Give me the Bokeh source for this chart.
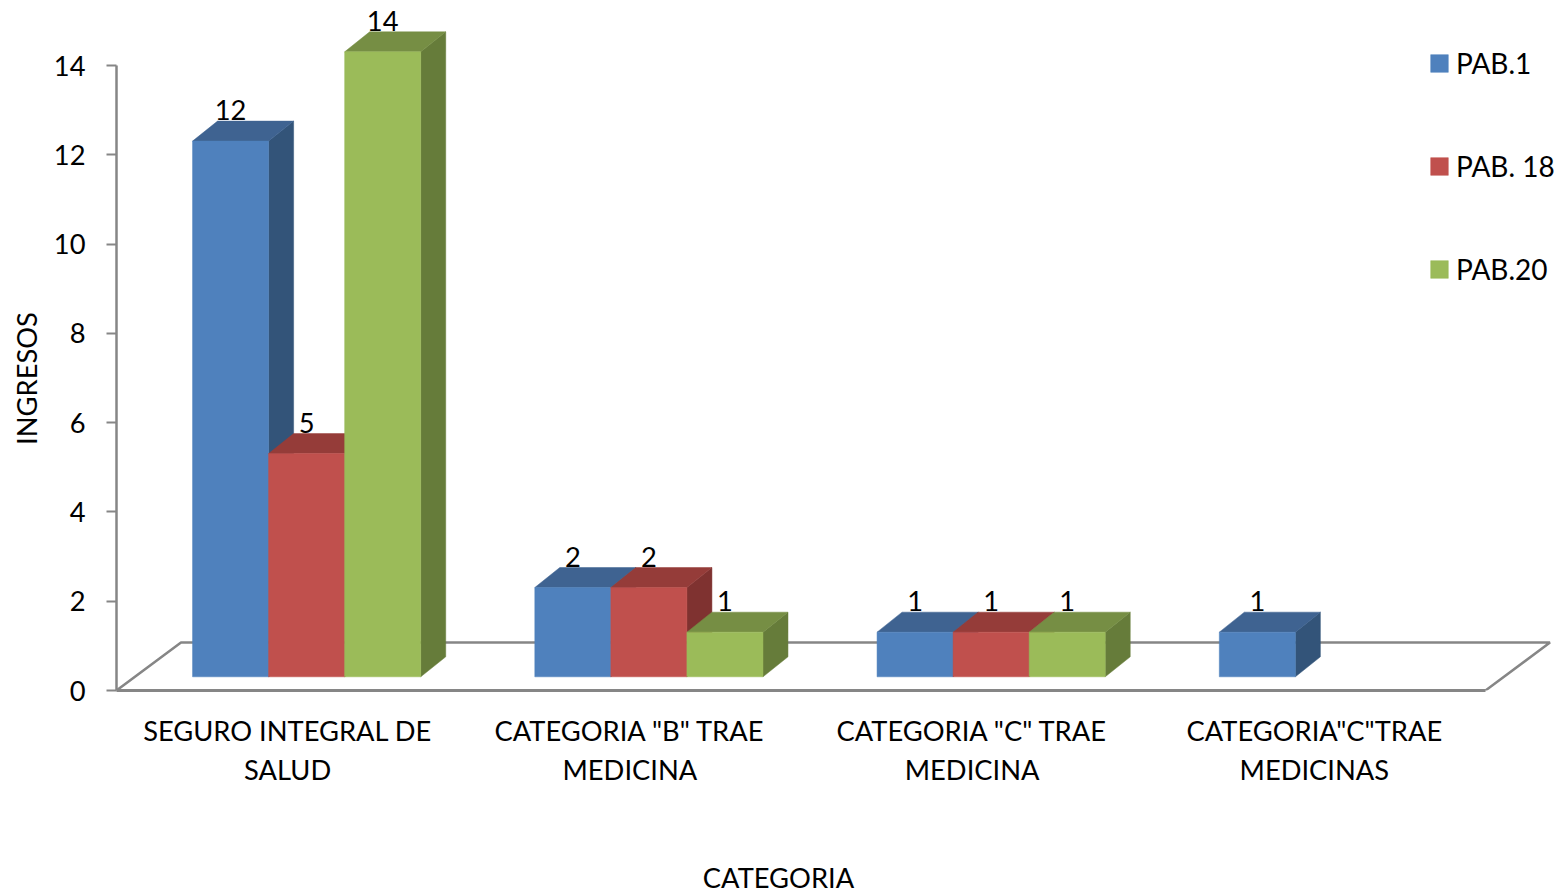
from bokeh.embed import file_html
from bokeh.resources import INLINE
from bokeh.plotting import figure
from bokeh.models import (Range1d, LinearAxis, FixedTicker, Legend, LegendItem)
from bokeh.core.properties import value

# ---- data ----
categories_line1 = ["SEGURO INTEGRAL DE", 'CATEGORIA "B" TRAE', 'CATEGORIA "C" TRAE', 'CATEGORIA"C"TRAE']
categories_line2 = ["SALUD", "MEDICINA", "MEDICINA", "MEDICINAS"]
series_names = ["PAB.1", "PAB. 18", "PAB.20"]
pab1 = [12, 2, 1, 1]
pab18 = [5, 2, 1, None]
pab20 = [14, 1, 1, None]
y_ticks = [0, 2, 4, 6, 8, 10, 12, 14]
x_title = "CATEGORIA"
y_title = "INGRESOS"

# ---- style ----
FONT = "Lato"
FS = "27.3px"
GREY = "#868686"
front_cols = ["#4F81BD", "#C0504D", "#9BBB59"]
top_cols = ["#3F6391", "#953C39", "#768E44"]
side_cols = ["#335479", "#7F3230", "#667C3A"]

W, H = 1564, 896
PX_X = 342.25   # px per category
PX_Y = 44.64    # px per unit
L, B = 116, 206

p = figure(width=W, height=H, output_backend="svg", toolbar_location=None,
           x_range=Range1d(0, (W - L) / PX_X), y_range=Range1d(0, (H - B) / PX_Y),
           x_axis_location=None, y_axis_location=None,
           min_border_left=L, min_border_bottom=B, min_border_top=0, min_border_right=0)
p.outline_line_color = None
p.grid.visible = False
p.background_fill_color = "white"

dx = 25 / PX_X      # bar depth
dy = 20 / PX_Y
base = 13.7 / PX_Y  # bar front base above the axis
fdx = 64.5 / PX_X   # floor depth
fdy = 48 / PX_Y
n = len(pab1)
bw = 1 / 4.5

# floor
p.line([0, fdx, n + fdx, n, 0], [0, fdy, fdy, 0, 0], line_color=GREY, line_width=2.5)

front_r = {}
label_x, label_y, label_t = [], [], []
for c in range(n):
    for s, vals in enumerate([pab1, pab18, pab20]):
        v = vals[c]
        if v is None:
            continue
        x0 = c + bw * (s + 1)
        x1 = x0 + bw
        y0 = base
        y1 = base + v
        p.patch([x1, x1 + dx, x1 + dx, x1], [y0, y0 + dy, y1 + dy, y1],
                fill_color=side_cols[s], line_color=side_cols[s], line_width=0.5)
        p.patch([x0, x0 + dx, x1 + dx, x1], [y1, y1 + dy, y1 + dy, y1],
                fill_color=top_cols[s], line_color=top_cols[s], line_width=0.5)
        r = p.quad(left=x0, right=x1, bottom=y0, top=y1,
                   fill_color=front_cols[s], line_color=front_cols[s], line_width=0.5)
        front_r.setdefault(s, r)
        label_x.append((x0 + x1) / 2)
        label_y.append(y1)
        label_t.append(str(v))

p.text(x=label_x, y=label_y, text=label_t, text_align="center", text_baseline="middle",
       y_offset=-31, text_font=value(FONT), text_font_size=FS, text_color="black")


def plain_axis(ticks, labels, standoff):
    a = LinearAxis(ticker=FixedTicker(ticks=ticks),
                   major_label_overrides={t: s for t, s in zip(ticks, labels)})
    a.axis_line_color = None
    a.major_tick_line_color = None
    a.minor_tick_line_color = None
    a.major_tick_out = 0
    a.major_tick_in = 0
    a.major_label_standoff = standoff
    a.major_label_text_font = FONT
    a.major_label_text_font_size = FS
    a.major_label_text_color = "black"
    return a


# y axis
ya = LinearAxis(ticker=FixedTicker(ticks=y_ticks), bounds=(0, 14))
ya.axis_line_color = GREY
ya.axis_line_width = 2.5
ya.major_tick_line_color = GREY
ya.major_tick_line_width = 2
ya.major_tick_out = 10
ya.major_tick_in = 0
ya.minor_tick_line_color = None
ya.major_label_standoff = 21
ya.major_label_text_font = FONT
ya.major_label_text_font_size = FS
ya.major_label_text_color = "black"
p.add_layout(ya, "left")

yt = plain_axis([(690 - 378) / PX_Y], [y_title], 8)
yt.major_label_orientation = "vertical"
p.add_layout(yt, "left")

# x axes: two stacked rows of category text, then the title row
centers = [i + 0.5 for i in range(n)]
xa = plain_axis(centers, categories_line1, 23)
xa.bounds = (0, n)
xa.axis_line_color = GREY
xa.axis_line_width = 3
p.add_layout(xa, "below")

p.add_layout(plain_axis(centers, categories_line2, 3), "below")
p.add_layout(plain_axis([(778 - L) / PX_X], [x_title], 72), "below")

legend = Legend(items=[LegendItem(label=series_names[s], renderers=[front_r[s]]) for s in range(3)],
                location=(1312, 404), orientation="vertical",
                padding=0, margin=0, spacing=69, glyph_width=22, glyph_height=22,
                label_standoff=6, label_height=18, border_line_color=None,
                background_fill_alpha=0,
                label_text_font=FONT, label_text_font_size="28px", label_text_color="black")
p.add_layout(legend, "center")

open("out.html", "w").write(file_html(p, INLINE))
